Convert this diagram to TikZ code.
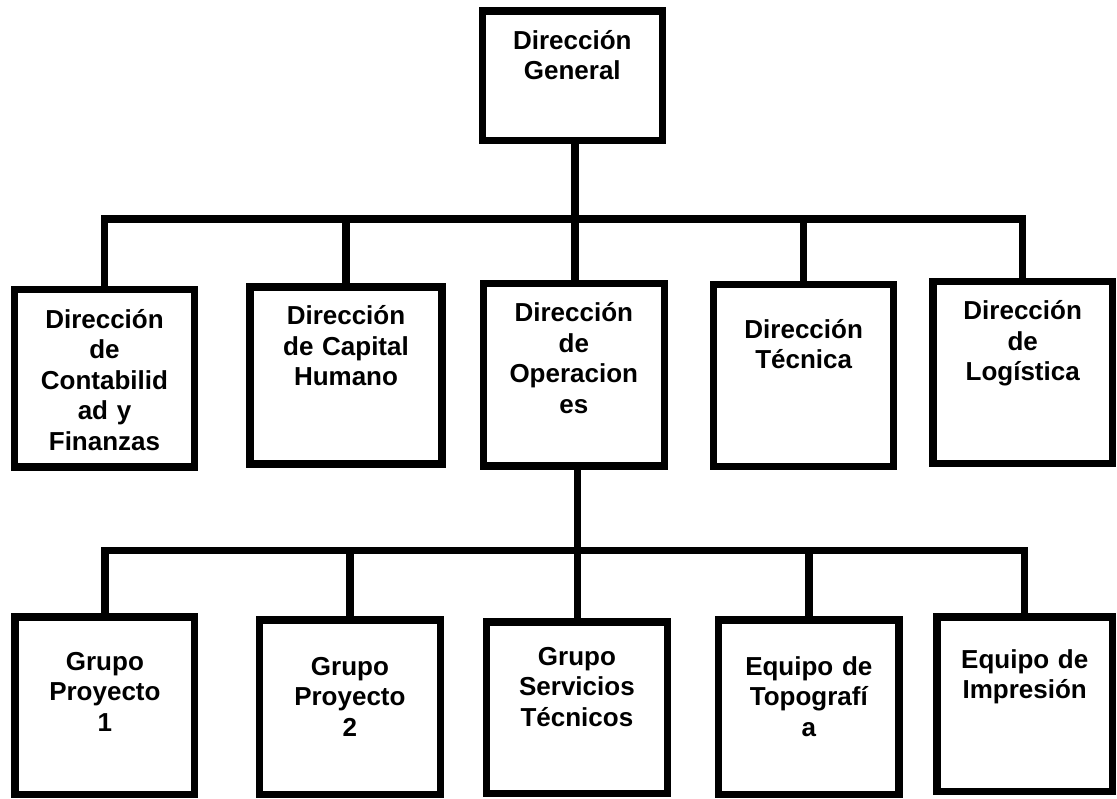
\documentclass[tikz,border=0pt]{standalone}
\usepackage{fontspec}
\setmainfont{Liberation Sans}
\tikzset{
  box/.style={draw=black, line width=7.5pt, inner sep=0pt, fill=white},
  lbl/.style={font=\fontsize{26}{30.5}\selectfont\bfseries, text width=190pt, align=center, inner sep=0pt, anchor=base},
  conn/.style={draw=black, line width=7.5pt},
}
\begin{document}
\begin{tikzpicture}[x=1pt,y=-1pt]
\useasboundingbox (0,0) rectangle (1117,799);
% boxes
\node[box, minimum width=179.9pt, minimum height=129.2pt] (top) at (572.3,75.7) {};
\node[box, minimum width=180pt, minimum height=177.5pt] (A) at (104.5,378.2) {};
\node[box, minimum width=191.8pt, minimum height=176.9pt] (B) at (346,375.5) {};
\node[box, minimum width=181pt, minimum height=182.5pt] (C) at (573.8,375) {};
\node[box, minimum width=180pt, minimum height=181.8pt] (D) at (803.7,375.4) {};
\node[box, minimum width=179.2pt, minimum height=182.1pt] (E) at (1022.7,372.5) {};
\node[box, minimum width=179.5pt, minimum height=177.2pt] (G1) at (104.9,705.7) {};
\node[box, minimum width=181.2pt, minimum height=174.5pt] (G2) at (349.9,707) {};
\node[box, minimum width=180.7pt, minimum height=171.2pt] (G3) at (576.9,707.7) {};
\node[box, minimum width=180.3pt, minimum height=174.5pt] (G4) at (808.8,707) {};
\node[box, minimum width=175.2pt, minimum height=174.2pt] (G5) at (1024.7,704.2) {};
% labels
\node[lbl] (ttop) at ([yshift=-42pt]top.north) {Dirección\\General};
\node[lbl] (tA) at ([yshift=-42.6pt]A.north) {Dirección\\de\\Contabilid\\ad y\\Finanzas};
\node[lbl] (tB) at ([yshift=-41.7pt]B.north) {Dirección\\de Capital\\Humano};
\node[lbl] (tC) at ([yshift=-41.7pt]C.north) {Dirección\\de\\Operacion\\es};
\node[lbl] (tD) at ([yshift=-57.6pt]D.north) {Dirección\\Técnica};
\node[lbl] (tE) at ([yshift=-42.3pt]E.north) {Dirección\\de\\Logística};
\node[lbl] (t1) at ([yshift=-56.7pt]G1.north) {Grupo\\Proyecto\\1};
\node[lbl] (t2) at ([yshift=-59pt]G2.north) {Grupo\\Proyecto\\2};
\node[lbl] (t3) at ([yshift=-46.7pt]G3.north) {Grupo\\Servicios\\Técnicos};
\node[lbl] (t4) at ([yshift=-59pt]G4.north) {Equipo de\\Topografí\\a};
\node[lbl] (t5) at ([yshift=-54.7pt]G5.north) {Equipo de\\Impresión};
% connectors
\coordinate (bus1) at (575.2,219);
\coordinate (bus2) at (577.6,550.5);
\draw[conn] (top.south -| bus1) -- (C.north -| bus1);
\draw[conn] (bus1) -| (A.north);
\draw[conn] (bus1) -| (B.north);
\draw[conn] (bus1) -| (D.north);
\draw[conn] (bus1) -| (E.north);
\draw[conn] (C.south -| bus2) -- (G3.north -| bus2);
\draw[conn] (bus2) -| (G1.north);
\draw[conn] (bus2) -| (G2.north);
\draw[conn] (bus2) -| (G4.north);
\draw[conn] (bus2) -| (G5.north);
\end{tikzpicture}
\end{document}
